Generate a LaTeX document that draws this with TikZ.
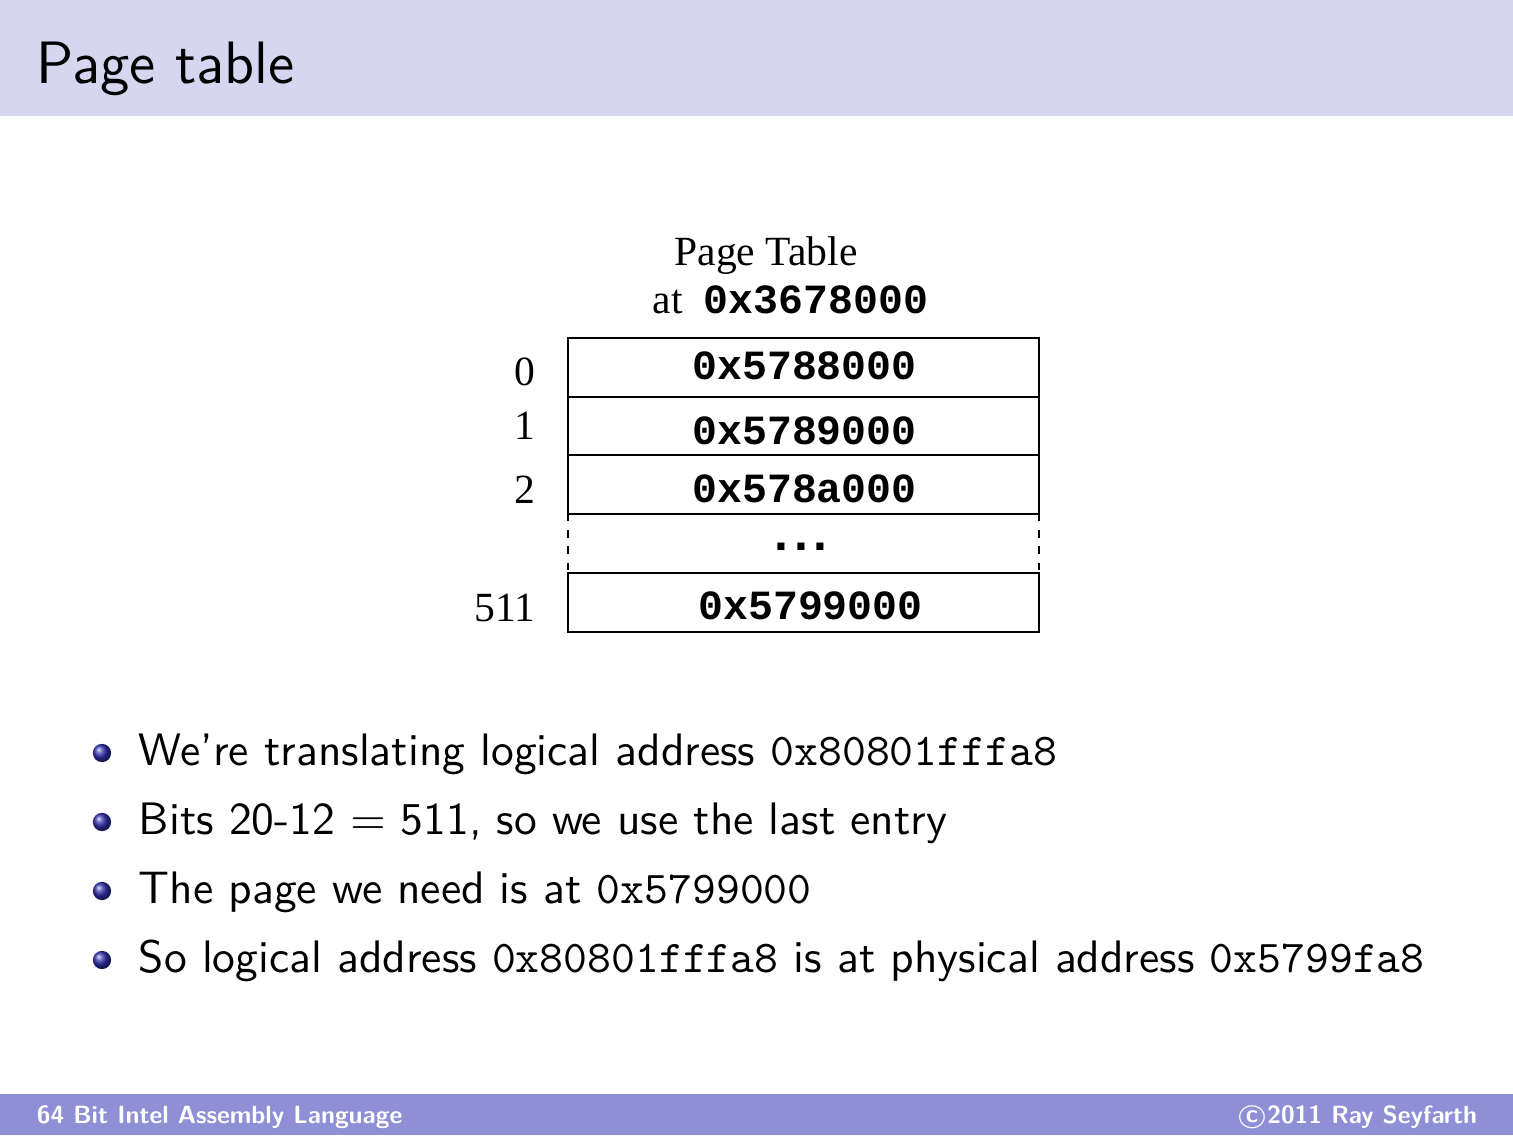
\documentclass[tikz,border=0pt]{standalone}
\usepackage{fontspec}
\newfontfamily\timesf{Liberation Serif}
\newfontfamily\courf{Liberation Mono}
\newfontfamily\arialf{Liberation Sans}
\definecolor{structure}{RGB}{51,51,178}
\definecolor{titlebg}{RGB}{214,214,240}
\definecolor{footbg}{RGB}{143,143,213}
\tikzset{
  tm/.style={inner sep=0pt, font=\timesf\fontsize{10}{12}\selectfont},
  cb/.style={inner sep=0pt, font=\courf\bfseries\fontsize{10}{12}\selectfont},
  bul/.style={inner sep=0pt, anchor=base west, font=\sffamily\fontsize{10.95}{13}\selectfont},
  foot/.style={inner sep=0pt, text=white, font=\sffamily\bfseries\fontsize{6}{7}\selectfont},
  tbl/.style={line width=0.5pt},
  dsh/.style={line width=0.5pt, dash pattern=on 1.8pt off 2.1pt},
}
\begin{document}
\begin{tikzpicture}[x=0.2407pt, y=-0.2407pt]
\useasboundingbox (0,0) rectangle (1513,1138);
% title bar
\fill[titlebg] (0,0) rectangle (1513,116);
\node[inner sep=0pt, anchor=base west, font=\sffamily\fontsize{14.4}{17}\selectfont] (title) at (36,84) {Page table};
% footer
\fill[footbg] (0,1094) rectangle (1513,1135);
\node[foot, anchor=base west] (footl) at (36,1123) {64 Bit Intel Assembly Language};
\node[foot, anchor=base east] (footr) at (1478,1123) {\textcircled{c}2011 Ray Seyfarth};
% table heading
\node[tm, anchor=base] (pt) at (766,266) {Page Table};
\node[tm, anchor=base west] (at) at (652,314) {at};
\node[cb, anchor=base] (ptaddr) at (816,314) {0x3678000};
% table boxes
\draw[tbl] (568,338) rectangle (1039,397);
\draw[tbl] (568,397) rectangle (1039,455);
\draw[tbl] (568,455) rectangle (1039,514);
\draw[tbl] (568,573) rectangle (1039,632);
\draw[dsh] (568,514) -- (568,573);
\draw[dsh] (1039,514) -- (1039,573);
% entries
\node[cb, anchor=base] (e0) at (804.5,380) {0x5788000};
\node[cb, anchor=base] (e1) at (804.5,445) {0x5789000};
\node[cb, anchor=base] (e2) at (804.5,503) {0x578a000};
\node[inner sep=0pt, anchor=base, font=\arialf\bfseries\fontsize{12}{14}\selectfont] (dots) at (801,551) {.\kern1.4pt.\kern1.4pt.};
\node[cb, anchor=base] (e511) at (810.5,620) {0x5799000};
% indices
\node[tm, anchor=base east] (i0) at (536,386) {0};
\node[tm, anchor=base east] (i1) at (536,440) {1};
\node[tm, anchor=base east] (i2) at (536,504) {2};
\node[tm, anchor=base east] (i511) at (536,621) {511};
% bullets
\foreach \yy in {753,822,891,960}{
  \shade[ball color=structure] (102,\yy) circle (2.2pt);
}
\node[bul] (b1) at (138,765) {We're translating logical address \texttt{0x80801fffa8}};
\node[bul] (b2) at (138,834) {Bits 20-12 $=$ 511, so we use the last entry};
\node[bul] (b3) at (138,903) {The page we need is at \texttt{0x5799000}};
\node[bul] (b4) at (138,972) {So logical address \texttt{0x80801fffa8} is at physical address \texttt{0x5799fa8}};
\end{tikzpicture}
\end{document}
